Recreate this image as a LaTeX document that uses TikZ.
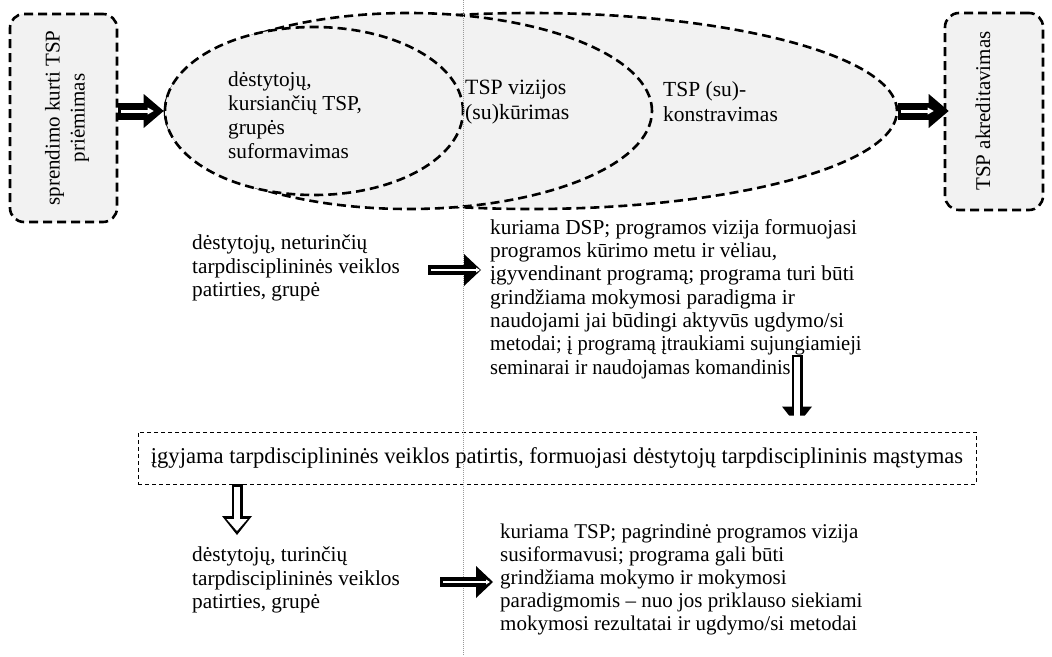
\documentclass[tikz,border=0pt]{standalone}
\usepackage{fontspec}
\setmainfont{Liberation Serif}
\usetikzlibrary{shapes.geometric,arrows.meta,calc}
\definecolor{shade}{HTML}{F2F2F2}
\begin{document}
\begin{tikzpicture}[x=1pt,y=-1pt,
  txt/.style={font=\fontsize{21.3}{23.3}\selectfont, align=left, inner sep=0pt, anchor=west},
  ell/.style={ellipse, draw=black, fill=shade, line width=2.6pt, dash pattern=on 9pt off 5pt, inner sep=0pt},
  rbox/.style={rectangle, rounded corners=14pt, draw=black, fill=shade, line width=2.6pt, dash pattern=on 9pt off 5pt, inner sep=0pt},
  thinbox/.style={rectangle, draw=black, line width=0.9pt, dash pattern=on 4pt off 3pt, inner sep=0pt},
  blkL/.style={line width=17pt, -{Triangle[length=20pt,width=34pt,line width=0pt]},
    postaction={draw=white, line width=3pt, -{Triangle[length=6pt,width=7pt,line width=0pt]}, shorten >=10pt, shorten <=3pt}},
  blkS/.style={line width=10pt, -{Triangle[length=17pt,width=32pt,line width=0pt]},
    postaction={draw=white, line width=1.6pt, -{Triangle[length=4pt,width=5pt,line width=0pt]}, shorten >=10pt, shorten <=3pt}},
  outl/.style={line width=11pt, -{Triangle[length=19pt,width=30pt,line width=0pt]},
    postaction={draw=white, line width=6.4pt, -{Triangle[length=12pt,width=21pt,line width=0pt]}, shorten >=4pt, shorten <=2.3pt}},
  guide/.style={draw=gray!80, line width=0.8pt, dash pattern=on 1pt off 1pt}
]
\useasboundingbox[fill=white] (0,0) rectangle (1052,656);

% ellipses
\node[ell, minimum width=732pt, minimum height=196pt] (proc) at (531,111) {};
\node[ell, minimum width=487pt, minimum height=196pt] (vis) at (408.5,111) {};
\node[ell, minimum width=298pt, minimum height=168pt] (grp) at (314,111) {};

% side boxes
\node[rbox, minimum width=107pt, minimum height=208pt] (lbox) at (63.5,118) {};
\node[txt, anchor=center, align=center, rotate=90, font=\fontsize{21}{25}\selectfont] (ltxt) at (67,118) {sprendimo kurti TSP\\priėmimas};
\node[rbox, minimum width=98pt, minimum height=197pt] (rbox) at (994,111.5) {};
\node[txt, anchor=center, rotate=90, font=\fontsize{21}{25}\selectfont] (rtxt) at (983,111) {TSP akreditavimas};

% ellipse texts
\node[txt, font=\fontsize{21.3}{24}\selectfont] (t1) at (228,115) {dėstytojų,\\kursiančių TSP,\\grupės\\suformavimas};
\node[txt, font=\fontsize{21.8}{25}\selectfont] (t2) at (465,102) {TSP vizijos\\(su)kūrimas};
\node[txt, font=\fontsize{21.5}{25}\selectfont] (t3) at (663,102) {TSP (su)-\\konstravimas};

% middle texts
\node[txt, font=\fontsize{21.3}{23.5}\selectfont] (t4) at (192,268) {dėstytojų, neturinčių\\tarpdisciplininės veiklos\\patirties, grupė};
\node[txt] (t5) at (490,299) {kuriama DSP; programos vizija formuojasi\\programos kūrimo metu ir vėliau,\\įgyvendinant programą; programa turi būti\\grindžiama mokymosi paradigma ir\\naudojami jai būdingi aktyvūs ugdymo/si\\\scalebox{0.96}[1]{metodai; į programą įtraukiami sujungiamieji}\\\scalebox{0.96}[1]{seminarai ir naudojamas komandinis}};

\node[thinbox, minimum width=838pt, minimum height=52pt, font=\fontsize{22.6}{25}\selectfont] (mid) at (557,458)
  {įgyjama tarpdisciplininės veiklos patirtis, formuojasi dėstytojų tarpdisciplininis mąstymas};

\node[txt, font=\fontsize{21.3}{23.5}\selectfont] (t6) at (192,580) {dėstytojų, turinčių\\tarpdisciplininės veiklos\\patirties, grupė};
\node[txt, font=\fontsize{21}{23}\selectfont] (t7) at (500,579) {kuriama TSP; pagrindinė programos vizija\\susiformavusi; programa gali būti\\grindžiama mokymo ir mokymosi\\paradigmomis – nuo jos priklauso siekiami\\mokymosi rezultatai ir ugdymo/si metodai};

% guide line
\draw[guide] (463,0) -- (463,656);

% arrows
\draw[blkL] (lbox.east |- proc.west) -- (proc.west);
\draw[blkL, shorten >=-5pt] (proc.east) -- (rbox.west |- proc.east);

\coordinate (a2) at (428,270);
\draw[blkS, shorten >=9pt] (a2) -- (a2 -| t5.west);
\coordinate (a3) at (440,582);
\draw[blkS, shorten >=7pt] (a3) -- (a3 -| t7.west);

\coordinate (v1) at (797,355);
\draw[outl, shorten >=6pt] (v1) -- (v1 |- mid.north);
\coordinate (v2) at (237,535);
\draw[outl] (v2 |- mid.south) -- (v2);
\end{tikzpicture}
\end{document}
